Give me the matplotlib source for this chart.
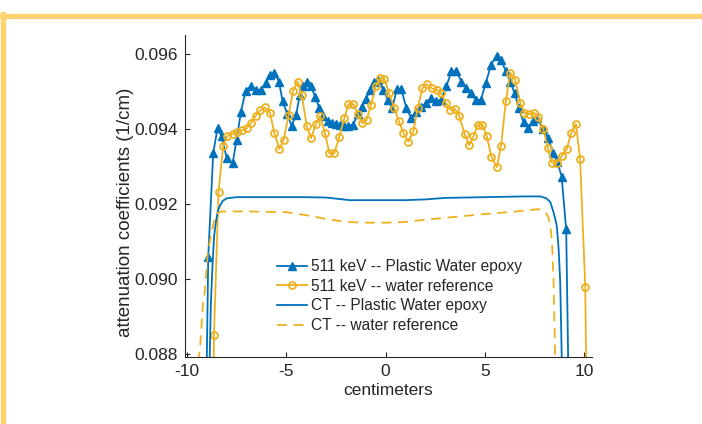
import matplotlib
matplotlib.use("Agg")
import matplotlib.pyplot as plt
from matplotlib.lines import Line2D

plt.rcParams['font.family'] = ['Liberation Sans', 'DejaVu Sans']
plt.rcParams['axes.unicode_minus'] = False

BLUE = '#0072BD'
YELLOW = '#EDB120'
DARK = '#262626'

# 511 keV -- Plastic Water epoxy
pw_x = [-9.17, -8.93, -8.68, -8.46, -8.26, -8.00, -7.70, -7.50, -7.28, -7.05, -6.80, -6.54, -6.28, -6.04,
        -5.82, -5.60, -5.37, -5.18, -4.95, -4.73, -4.51, -4.31, -4.14, -3.97, -3.75, -3.55, -3.33, -3.13,
        -2.91, -2.71, -2.51, -2.29, -2.07, -1.87, -1.62, -1.40, -1.20, -0.98, -0.78, -0.56, -0.36, -0.11,
        0.12, 0.34, 0.57, 0.80, 1.05, 1.30, 1.55, 1.80, 2.05, 2.30, 2.55, 2.80, 3.06, 3.32, 3.57, 3.82,
        4.07, 4.31, 4.55, 4.80, 5.05, 5.32, 5.59, 5.82, 6.06, 6.28, 6.50, 6.72, 6.95, 7.20, 7.45, 7.65,
        7.92, 8.20, 8.44, 8.65, 8.87, 9.10, 9.34]
pw_y = [0.0815, 0.09059, 0.09335, 0.09402, 0.09380, 0.09322, 0.09309, 0.09371, 0.09446, 0.09500, 0.09513,
        0.09504, 0.09504, 0.09522, 0.09544, 0.09549, 0.09526, 0.09473, 0.09440, 0.09408, 0.09437, 0.09491,
        0.09513, 0.09524, 0.09513, 0.09486, 0.09455, 0.09433, 0.09420, 0.09415, 0.09413, 0.09411, 0.09408,
        0.09408, 0.09411, 0.09440, 0.09459, 0.09479, 0.09504, 0.09526, 0.09531, 0.09504, 0.09477, 0.09455,
        0.09505, 0.09505, 0.09455, 0.09429, 0.09446, 0.09459, 0.09468, 0.09482, 0.09473, 0.09477, 0.09513,
        0.09553, 0.09553, 0.09526, 0.09508, 0.09495, 0.09477, 0.09477, 0.09522, 0.09571, 0.09595, 0.09584,
        0.09553, 0.09526, 0.09495, 0.09455, 0.09417, 0.09402, 0.09420, 0.09429, 0.09400, 0.09375, 0.09335,
        0.09313, 0.09273, 0.09132, 0.0830]

# 511 keV -- water reference
wr_x = [-8.88, -8.64, -8.41, -8.18, -7.96, -7.70, -7.47, -7.22, -6.98, -6.78, -6.54, -6.31, -6.07, -5.82,
        -5.60, -5.35, -5.13, -4.88, -4.66, -4.43, -4.22, -3.97, -3.75, -3.51, -3.30, -3.05, -2.83, -2.58,
        -2.34, -2.07, -1.87, -1.62, -1.40, -1.17, -0.95, -0.73, -0.49, -0.28, -0.06, 0.18, 0.45, 0.68,
        0.90, 1.15, 1.40, 1.62, 1.86, 2.08, 2.33, 2.58, 2.80, 3.03, 3.25, 3.50, 3.71, 3.98, 4.21, 4.43,
        4.65, 4.88, 5.10, 5.33, 5.61, 5.82, 6.06, 6.28, 6.53, 6.78, 7.00, 7.23, 7.50, 7.70, 7.95, 8.18,
        8.38, 8.63, 8.88, 9.13, 9.35, 9.59, 9.80, 10.06, 10.30]
wr_y = [0.0790, 0.08851, 0.09233, 0.09353, 0.09382, 0.09387, 0.09391, 0.09396, 0.09402, 0.09415, 0.09435,
        0.09449, 0.09457, 0.09443, 0.09389, 0.09346, 0.09371, 0.09437, 0.09500, 0.09526, 0.09491, 0.09408,
        0.09375, 0.09413, 0.09435, 0.09389, 0.09335, 0.09335, 0.09377, 0.09429, 0.09466, 0.09466, 0.09440,
        0.09415, 0.09424, 0.09464, 0.09513, 0.09535, 0.09533, 0.09495, 0.09455, 0.09420, 0.09389, 0.09366,
        0.09393, 0.09455, 0.09508, 0.09519, 0.09508, 0.09504, 0.09495, 0.09470, 0.09451, 0.09453, 0.09435,
        0.09387, 0.09357, 0.09380, 0.09411, 0.09411, 0.09380, 0.09326, 0.09298, 0.09355, 0.09473, 0.09549,
        0.09531, 0.09470, 0.09442, 0.09440, 0.09442, 0.09431, 0.09399, 0.09349, 0.09310, 0.09310, 0.09328,
        0.09346, 0.09389, 0.09413, 0.09319, 0.08980, 0.0790]

# CT -- Plastic Water epoxy
ctp_x = [-8.86, -8.80, -8.72, -8.64, -8.55, -8.45, -8.34, -8.20, -8.00, -7.50, -6.00, -4.00, -3.00, -2.30,
         -1.80, -1.00, 0.00, 1.00, 2.00, 3.00, 5.00, 7.00, 7.80, 8.10, 8.30, 8.45, 8.55, 8.63, 8.72, 8.80, 8.88]
ctp_y = [0.0878, 0.0893, 0.0903, 0.0911, 0.0915, 0.0918, 0.09195, 0.09208, 0.09215, 0.09218, 0.09218,
         0.09218, 0.09217, 0.09213, 0.09210, 0.09210, 0.09210, 0.09210, 0.09212, 0.09216, 0.09218, 0.09220,
         0.09220, 0.09215, 0.09205, 0.09180, 0.09160, 0.09140, 0.09080, 0.08990, 0.08780]

# CT -- water reference
ctw_x = [-9.46, -9.35, -9.20, -9.10, -8.95, -8.85, -8.70, -8.59, -8.45, -8.26, -7.00, -5.00, -4.00, -3.00,
         -2.00, -1.00, 0.00, 1.00, 2.00, 3.00, 4.00, 5.00, 6.40, 7.50, 7.80, 8.05, 8.20, 8.30, 8.38, 8.46, 8.55]
ctw_y = [0.0878, 0.0881, 0.0893, 0.0897, 0.0907, 0.0910, 0.0914, 0.09166, 0.09176, 0.09180, 0.09180,
         0.09178, 0.09170, 0.09160, 0.09152, 0.09150, 0.09150, 0.09152, 0.09158, 0.09163, 0.09168, 0.09173,
         0.09179, 0.09185, 0.09186, 0.09178, 0.09166, 0.09140, 0.09104, 0.09000, 0.08780]

labels = ['511 keV -- Plastic Water epoxy', '511 keV -- water reference',
          'CT -- Plastic Water epoxy', 'CT -- water reference']
x_ticks = [-10, -5, 0, 5, 10]
y_ticks = [0.088, 0.090, 0.092, 0.094, 0.096]

fig = plt.figure(figsize=(7.02, 4.24), dpi=100)
ax = fig.add_axes([185 / 702, 1 - 356.7 / 424, (592 - 185) / 702, (356.7 - 35) / 424])

lw = 1.3
ax.plot(pw_x, pw_y, color=BLUE, lw=lw, marker='^', ms=5.5, mfc=BLUE, mec=BLUE, label=labels[0])
ax.plot(wr_x, wr_y, color=YELLOW, lw=lw, marker='o', ms=5, mfc='none', mec=YELLOW, mew=1.3, label=labels[1])
ax.plot(ctp_x, ctp_y, color=BLUE, lw=lw, label=labels[2])
l4, = ax.plot(ctw_x, ctw_y, color=YELLOW, lw=lw, ls='--', label=labels[3])
l4.set_dashes((5.5, 3.7))

ax.set_xlim(-10.1, 10.4)
ax.set_ylim(0.08793, 0.0965)
ax.set_xticks(x_ticks)
ax.set_xticklabels([str(v) for v in x_ticks])
ax.set_yticks(y_ticks)
ax.set_yticklabels(['%.3f' % v for v in y_ticks])
for s in ['top', 'right']:
    ax.spines[s].set_visible(False)
for s in ['left', 'bottom']:
    ax.spines[s].set_color(DARK)
    ax.spines[s].set_linewidth(0.8)
ax.tick_params(direction='in', length=3.5, width=0.8, color=DARK, labelcolor=DARK, labelsize=12.5, pad=5)
ax.set_xlabel('centimeters', fontsize=12.5, color=DARK, labelpad=3)
ax.set_ylabel('attenuation coefficients (1/cm)', fontsize=13.5, color=DARK)
ax.yaxis.set_label_coords(126 / 702, 0.5, transform=fig.transFigure)
ax.yaxis.label.set_va('center')

leg = ax.legend(loc='upper left', bbox_to_anchor=(277 / 702, 1 - 259 / 424), bbox_transform=fig.transFigure,
                frameon=False, fontsize=11.2, handlelength=1.9, handletextpad=0.3, labelspacing=0.3,
                borderpad=0, borderaxespad=0)
for t in leg.get_texts():
    t.set_color(DARK)

# yellow frame
FRAME = '#FFD36F'
fig.add_artist(Line2D([0.0, 1.0], [1 - 16 / 424, 1 - 16 / 424], transform=fig.transFigure, color=FRAME, lw=3.8))
fig.add_artist(Line2D([2.5 / 702, 2.5 / 702], [0, 1 - 14 / 424], transform=fig.transFigure, color=FRAME, lw=3.8))

fig.savefig('out.png', dpi=100)
